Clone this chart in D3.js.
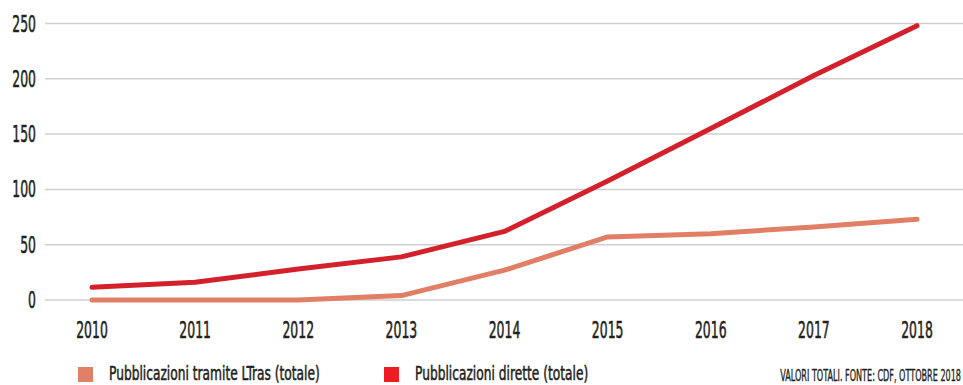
<!DOCTYPE html>
<html>
<head>
<meta charset="utf-8">
<script src="https://cdn.jsdelivr.net/npm/d3@7"></script>
<style>
  html, body { margin: 0; padding: 0; background: #fff; }
  svg { display: block; }
  text { font-family: "DejaVu Sans Condensed", "Liberation Sans Narrow", sans-serif; fill: #231f20; stroke: #231f20; stroke-width: 0.55px; }
</style>
</head>
<body>
<svg id="chart" width="963" height="385"></svg>
<script>
const years = [2010, 2011, 2012, 2013, 2014, 2015, 2016, 2017, 2018];
const ltrasTotal = [0, 0, 0, 4, 27, 57, 60, 66, 73];
const directTotal = [11.5, 16, 28, 39, 62, 107.5, 155, 203, 248];
const yTicks = [0, 50, 100, 150, 200, 250];
const seriesNames = ["Pubblicazioni tramite LTras (totale)", "Pubblicazioni dirette (totale)"];
const noteText = "VALORI TOTALI. FONTE: CDF, OTTOBRE 2018";

const W = 963, H = 385;
const svg = d3.select("#chart");

const x = d3.scalePoint().domain(years).range([92, 917]);
const y = d3.scaleLinear().domain([0, 250]).range([300, 23.5]);

// condensed text helper: horizontal squeeze around the anchor point
function label(g, tx, ty, str, size, anchor, sq) {
  return g.append("text")
    .attr("transform", `translate(${tx},${ty}) scale(${sq},1)`)
    .attr("text-anchor", anchor)
    .style("font-size", size + "px")
    .text(str);
}

// horizontal grid
const grid = svg.append("g");
grid.selectAll("line").data(yTicks).join("line")
  .attr("x1", 45).attr("x2", W)
  .attr("y1", d => y(d)).attr("y2", d => y(d))
  .attr("stroke", "#cfcfcf").attr("stroke-width", 1.5);

// y labels
const yl = svg.append("g");
yTicks.forEach(t => label(yl, 36, y(t) + 8, String(t), 23, "end", 0.6));

// x labels
const xl = svg.append("g");
years.forEach(yr => label(xl, x(yr), 338, String(yr), 23, "middle", 0.6));

// lines
const line = vals => d3.line()
  .x((d, i) => x(years[i]))
  .y(d => y(d))(vals);

svg.append("path").attr("d", line(ltrasTotal))
  .attr("fill", "none").attr("stroke", "#e07f65").attr("stroke-width", 5)
  .attr("stroke-linecap", "round").attr("stroke-linejoin", "round");
svg.append("path").attr("d", line(directTotal))
  .attr("fill", "none").attr("stroke", "#d3202b").attr("stroke-width", 5)
  .attr("stroke-linecap", "round").attr("stroke-linejoin", "round");

// legend
const lg = svg.append("g");
const legendItems = [
  { name: seriesNames[0], color: "#e08068", x: 78 },
  { name: seriesNames[1], color: "#ed1c24", x: 384 }
];
legendItems.forEach(it => {
  lg.append("rect").attr("x", it.x).attr("y", 367).attr("width", 15).attr("height", 15).attr("fill", it.color);
  label(lg, it.x + 31, 380, it.name, 20, "start", 0.68);
});

// source note
label(svg.append("g"), 961, 381, noteText, 15, "end", 0.6).style("stroke-width", "0.35px");
</script>
</body>
</html>
